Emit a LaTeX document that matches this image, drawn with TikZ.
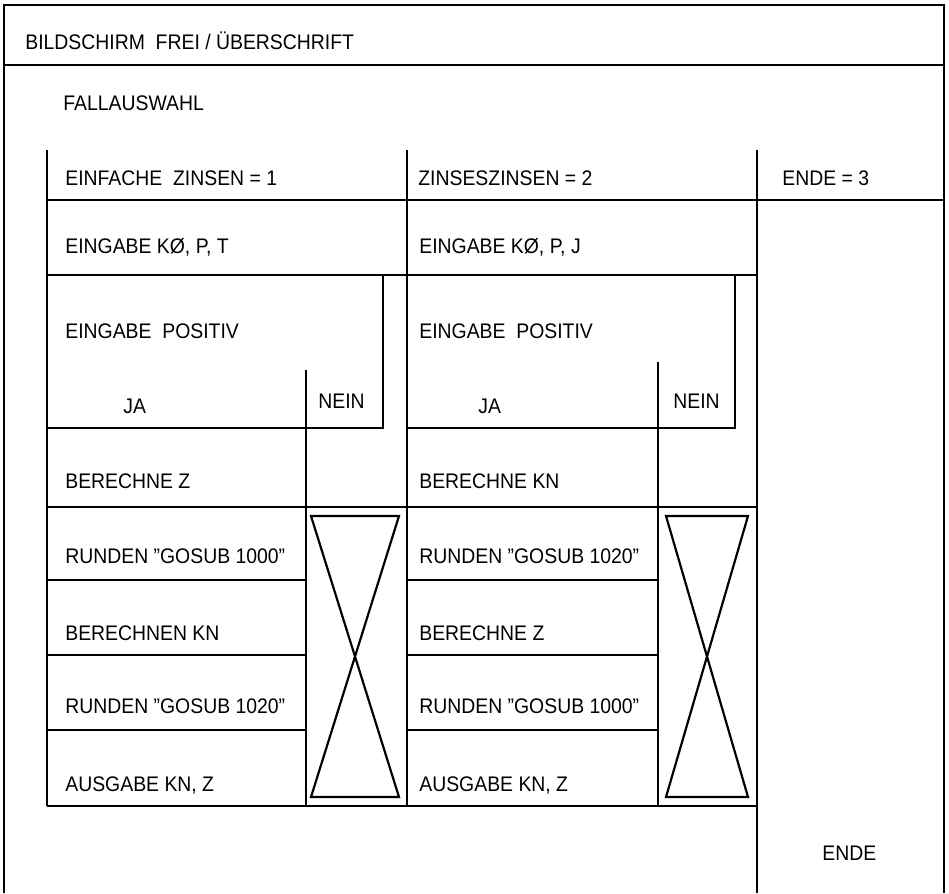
\documentclass[tikz,border=0pt]{standalone}
\usepackage{fontspec}
\setmainfont{Liberation Sans}[FakeStretch=0.92]
\begin{document}
\begin{tikzpicture}[x=0.02cm,y=-0.02cm,
  ln/.style={line width=1.25pt},
  frameln/.style={line width=0.95pt},
  sepln/.style={line width=0.75pt},
  txt/.style={anchor=base west,inner sep=0pt,font=\fontsize{12}{14}\selectfont}]
\useasboundingbox (0,0) rectangle (949,893);
% outer frame
\draw[frameln] (4,893) -- (4,5) -- (944,5) -- (944,893);
\draw[sepln] (4,65) -- (944,65);
\node[txt] (title) at (25,49) {BILDSCHIRM\ \ FREI / ÜBERSCHRIFT};
\node[txt] (fall) at (63,110) {FALLAUSWAHL};
% case columns
\draw[ln] (47,150) -- (47,806);
\draw[ln] (407,150) -- (407,806);
\draw[ln] (757,150) -- (757,893);
\draw[ln] (47,200) -- (944,200);
\node[txt] (c1) at (65,185) {EINFACHE\ \ ZINSEN = 1};
\node[txt] (c2) at (418,185) {ZINSESZINSEN = 2};
\node[txt] (c3) at (782,185) {ENDE = 3};
% input row
\draw[ln] (47,275) -- (757,275);
\node[txt] (e1) at (65,253) {EINGABE KØ, P, T};
\node[txt] (e2) at (419,253) {EINGABE KØ, P, J};
% loop boxes
\draw[ln] (383,275) -- (383,428) -- (47,428);
\draw[ln] (735,275) -- (735,428) -- (407,428);
\node[txt] (p1) at (65,338) {EINGABE\ \ POSITIV};
\node[txt] (p2) at (419,338) {EINGABE\ \ POSITIV};
\node[txt] (ja1) at (123,413) {JA};
\node[txt] (nein1) at (318,408) {NEIN};
\node[txt] (ja2) at (478,413) {JA};
\node[txt] (nein2) at (673,408) {NEIN};
\draw[ln] (306,370) -- (306,806);
\draw[ln] (658,362) -- (658,806);
% compute rows
\draw[ln] (47,507) -- (757,507);
\node[txt] (b1) at (65,488) {BERECHNE Z};
\node[txt] (b2) at (419,488) {BERECHNE KN};
\draw[ln] (47,580) -- (306,580);
\draw[ln] (47,655) -- (306,655);
\draw[ln] (47,730) -- (306,730);
\draw[ln] (407,580) -- (658,580);
\draw[ln] (407,655) -- (658,655);
\draw[ln] (407,730) -- (658,730);
\draw[ln] (47,806) -- (757,806);
\node[txt] (r11) at (65,563) {RUNDEN "GOSUB 1000”};
\node[txt] (r12) at (65,640) {BERECHNEN KN};
\node[txt] (r13) at (65,713) {RUNDEN "GOSUB 1020”};
\node[txt] (r14) at (65,791) {AUSGABE KN, Z};
\node[txt] (r21) at (419,563) {RUNDEN "GOSUB 1020”};
\node[txt] (r22) at (419,640) {BERECHNE Z};
\node[txt] (r23) at (419,713) {RUNDEN "GOSUB 1000”};
\node[txt] (r24) at (419,791) {AUSGABE KN, Z};
% hourglass symbols
\draw[ln,line join=miter] (311,516) -- (399,516) -- (311,797) -- (399,797) -- cycle;
\draw[ln,line join=miter] (666,516) -- (748,516) -- (666,797) -- (748,797) -- cycle;
\node[txt] (ende) at (822,860) {ENDE};
\end{tikzpicture}
\end{document}
